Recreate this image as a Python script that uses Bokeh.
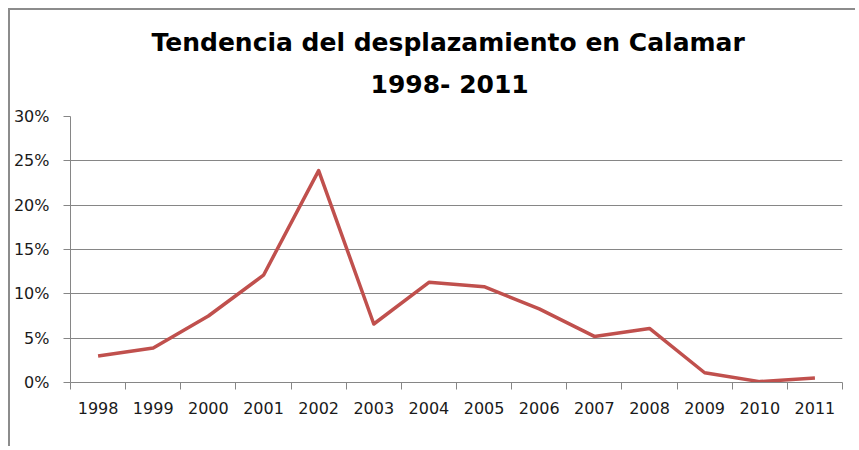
from bokeh.plotting import figure
from bokeh.models import Range1d, FixedTicker, NumeralTickFormatter, Title, ColumnDataSource
from bokeh.embed import file_html
from bokeh.resources import INLINE

# ---- data ----
years = [1998, 1999, 2000, 2001, 2002, 2003, 2004, 2005, 2006, 2007, 2008, 2009, 2010, 2011]
share = [0.030, 0.039, 0.075, 0.121, 0.239, 0.066, 0.113, 0.108, 0.083, 0.052, 0.061, 0.011, 0.001, 0.005]
y_ticks = [0.0, 0.05, 0.10, 0.15, 0.20, 0.25, 0.30]
title_line1 = "Tendencia del desplazamiento en Calamar"
title_line2 = "1998- 2011"

GRAY = "#868686"
RED = "#C0504D"
TICK_FONT = "DejaVu Sans"
TITLE_FONT = "DejaVu Sans"

p = figure(width=847, height=438, output_backend="svg", toolbar_location=None,
           x_range=Range1d(years[0] - 0.5, years[-1] + 0.5),
           y_range=Range1d(y_ticks[0], y_ticks[-1]),
           min_border_left=60, min_border_right=15, min_border_bottom=66, min_border_top=106)

p.styles = {"margin-left": "8px", "margin-top": "8px",
            "border-left": "2px solid #8c8c8c", "border-top": "2px solid #8c8c8c"}

src = ColumnDataSource(dict(x=years, y=share))
p.line("x", "y", source=src, line_color=RED, line_width=3.5, line_join="round")

# titles (later added goes on top); left-aligned with offsets so both centre near x=449
p.add_layout(Title(text=title_line2, align="left", text_font=TITLE_FONT, text_font_size="25px",
                   text_font_style="bold", text_color="black", offset=300, standoff=35), "above")
p.add_layout(Title(text=title_line1, align="left", text_font=TITLE_FONT, text_font_size="25px",
                   text_font_style="bold", text_color="black", offset=81, standoff=-12), "above")

# x axis: labels at centers, tick marks at boundaries (minor ticks)
bounds = [y - 0.5 for y in years] + [years[-1] + 0.5]
p.xaxis.ticker = FixedTicker(ticks=years, minor_ticks=bounds)
p.xaxis.major_label_overrides = {y: str(y) for y in years}
p.xaxis.major_tick_line_color = None
p.xaxis.major_tick_out = 0
p.xaxis.major_tick_in = 0
p.xaxis.minor_tick_line_color = GRAY
p.xaxis.minor_tick_out = 7
p.xaxis.minor_tick_in = 0
p.xaxis.axis_line_color = GRAY
p.xaxis.major_label_standoff = 12
p.xaxis.major_label_text_font = TICK_FONT
p.xaxis.major_label_text_font_size = "16px"
p.xaxis.major_label_text_color = "#1a1a1a"

# y axis
p.yaxis.ticker = FixedTicker(ticks=y_ticks, minor_ticks=[])
p.yaxis.formatter = NumeralTickFormatter(format="0%")
p.yaxis.major_tick_line_color = GRAY
p.yaxis.major_tick_out = 7
p.yaxis.major_tick_in = 0
p.yaxis.minor_tick_line_color = None
p.yaxis.axis_line_color = GRAY
p.yaxis.major_label_standoff = 14
p.yaxis.major_label_text_font = TICK_FONT
p.yaxis.major_label_text_font_size = "16px"
p.yaxis.major_label_text_color = "#1a1a1a"

p.xgrid.grid_line_color = None
p.ygrid.grid_line_color = GRAY
p.ygrid.grid_line_width = 1
p.outline_line_color = None
p.background_fill_color = "white"
p.border_fill_color = "white"

open("out.html", "w").write(file_html(p, INLINE))
